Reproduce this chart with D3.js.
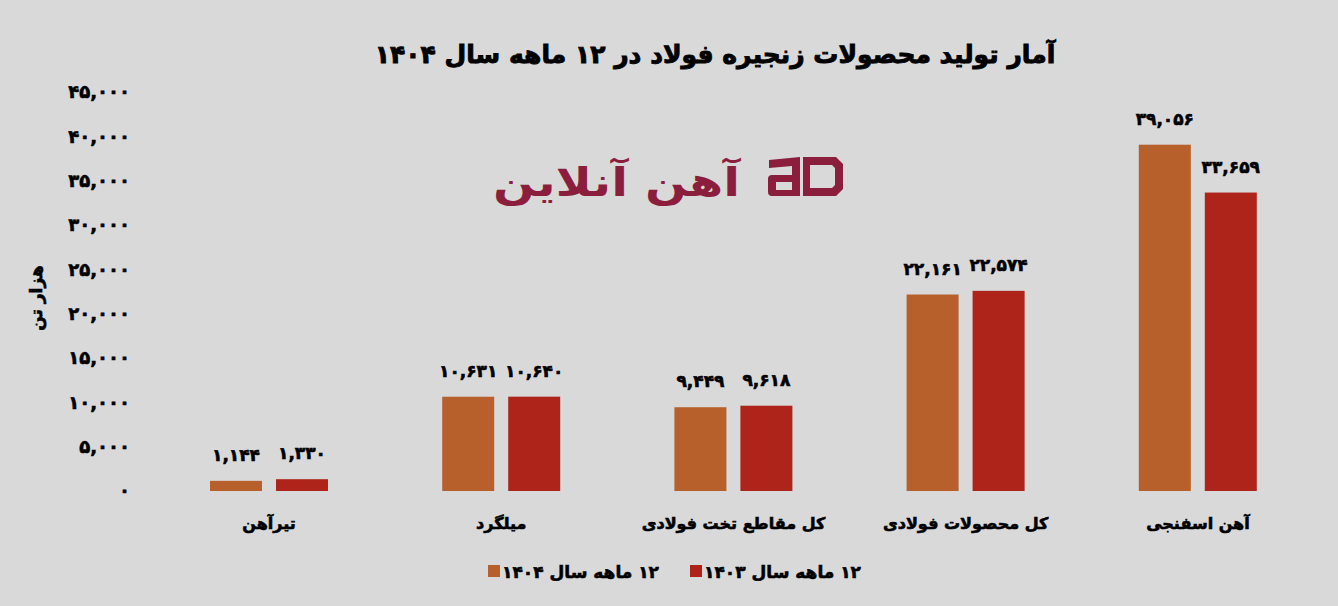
<!DOCTYPE html>
<html><head><meta charset="utf-8">
<script src="https://cdn.jsdelivr.net/npm/d3@7"></script>
<style>
html,body{margin:0;padding:0;background:#d9d9d9;}
svg{display:block;}
text{font-family:"DejaVu Sans",sans-serif;font-weight:bold;}
</style></head><body>
<svg id="chart" width="1338" height="606"></svg>
<script>
const categories = ["تیرآهن","میلگرد","کل مقاطع تخت فولادی","کل محصولات فولادی","آهن اسفنجی"];
const seriesNames = ["۱۲ ماهه سال ۱۴۰۴","۱۲ ماهه سال ۱۴۰۳"];
const values1404 = [1144, 10631, 9449, 22161, 39056];
const values1403 = [1330, 10640, 9618, 22574, 33659];
const yTicks = [0,5000,10000,15000,20000,25000,30000,35000,40000,45000];
const colors = ["#b8602b","#ae231a"];
const title = "آمار تولید محصولات زنجیره فولاد در ۱۲ ماهه سال ۱۴۰۴";
const yLabel = "هزار تن";
const logoText = "آهن آنلاین";

const fa = s => String(s).replace(/[0-9]/g, d => "۰۱۲۳۴۵۶۷۸۹"[d]);
const fmt = v => fa(d3.format(",")(v));

const svg = d3.select("#chart");
const W = 1338, H = 606;
svg.append("rect").attr("width",W).attr("height",H).attr("fill","#d9d9d9");

const y = d3.scaleLinear().domain([0,45000]).range([491,92]);
const x0 = d3.scaleBand().domain(categories).range([153,1314]);
const x1 = d3.scaleBand().domain(seriesNames).range([57,175]).paddingInner(0.212);

const bold = sel => sel.style("fill","#000").style("stroke","#000").style("stroke-width","0.6px");

// title
bold(svg.append("text").attr("x",715).attr("y",63).attr("text-anchor","middle").attr("direction","rtl")
  .style("font-size","25px").text(title)).style("stroke-width","0.9px");

// y axis
const yAxis = d3.axisLeft(y).tickValues(yTicks).tickSize(0).tickPadding(0).tickFormat(fmt);
const ga = svg.append("g").attr("transform","translate(130,0)").call(yAxis);
ga.select(".domain").remove();
bold(ga.selectAll("text").style("font-size","18px").style("font-family","DejaVu Sans").style("font-weight","bold"));

bold(svg.append("text").attr("transform","translate(42,298) rotate(-90)").attr("direction","rtl")
  .attr("text-anchor","middle").style("font-size","17px").text(yLabel));

// watermark logo
const logo = svg.append("g");
logo.append("text").attr("x",493).attr("y",196).attr("text-anchor","start")
  .attr("textLength",247).attr("lengthAdjust","spacingAndGlyphs")
  .style("font-size","40px").style("font-weight","bold").style("fill","#8b1e3c").text(logoText);
const ic = logo.append("g").style("fill","#8b1e3c");
ic.append("path").attr("fill-rule","evenodd")
  .attr("d","M769 160 L800 157 V196 H772 Q768 196 768 192 V179 Q768 175 772 175 H792 V166 L769 168 Z M776 182 V190 H792 V182 Z");
ic.append("path").attr("fill-rule","evenodd")
  .attr("d","M803 157 H836 L843 164 V189 L836 196 H803 Z M810 165 V188 H832 L835 185 V168 L832 165 Z");

// bars
const data = categories.map((c,i)=>({cat:c, vals:[{s:seriesNames[0],v:values1404[i],c:colors[0]},{s:seriesNames[1],v:values1403[i],c:colors[1]}]}));
const g = svg.append("g").selectAll("g").data(data).join("g")
  .attr("transform",d=>`translate(${x0(d.cat)},0)`);
g.selectAll("rect").data(d=>d.vals).join("rect")
  .attr("x",d=>x1(d.s)).attr("width",x1.bandwidth())
  .attr("y",d=>y(d.v)).attr("height",d=>y(0)-y(d.v)).attr("fill",d=>d.c);
bold(g.selectAll("text.val").data(d=>d.vals).join("text").attr("class","val")
  .attr("x",d=>x1(d.s)+x1.bandwidth()/2).attr("y",d=>y(d.v)-20)
  .attr("text-anchor","middle").style("font-size","17px").style("letter-spacing","-0.3px").text(d=>fmt(d.v)));

// x labels
bold(svg.append("g").selectAll("text").data(categories).join("text")
  .attr("x",d=>x0(d)+x0.bandwidth()/2).attr("y",529).attr("text-anchor","middle").attr("direction","rtl")
  .style("font-size","16px").text(d=>d));

// legend
const leg = [{s:seriesNames[0],c:colors[0],x:488},{s:seriesNames[1],c:colors[1],x:690}];
const lg = svg.append("g").selectAll("g").data(leg).join("g").attr("transform",d=>`translate(${d.x},0)`);
lg.append("rect").attr("x",0).attr("y",565).attr("width",12).attr("height",12).attr("fill",d=>d.c);
bold(lg.append("text").attr("x",171).attr("y",578).attr("text-anchor","start").attr("direction","rtl")
  .style("font-size","17px").text(d=>d.s));
</script>
</body></html>
